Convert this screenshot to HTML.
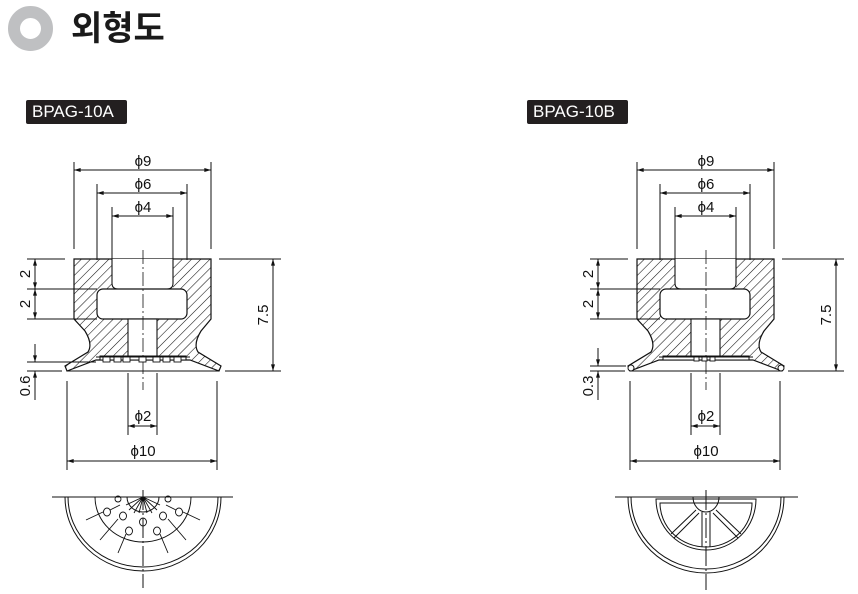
<!DOCTYPE html>
<html><head><meta charset="utf-8"><style>
html,body{margin:0;padding:0;background:#fff;}
body{width:858px;height:594px;overflow:hidden;position:relative;font-family:"Liberation Sans","Noto Sans CJK KR",sans-serif;}
.ring{position:absolute;left:8px;top:6px;width:21px;height:21px;border:12px solid #bfc0c2;border-radius:50%;}
.title{position:absolute;left:71px;top:1px;font-size:34px;font-weight:bold;color:#1a1a1a;font-family:"Noto Sans CJK KR","NanumGothic",sans-serif;}
.lbl{position:absolute;top:100px;height:24px;background:#231f20;color:#fff;font-size:17px;line-height:24px;padding:0 6px;border-radius:2px;}
svg{position:absolute;left:0;top:0;}
</style></head><body>
<div class="ring"></div>
<div class="title">외형도</div>
<div class="lbl" style="left:26px;width:89px;">BPAG-10A</div>
<div class="lbl" style="left:527px;width:89px;">BPAG-10B</div>
<svg width="858" height="594" viewBox="0 0 858 594">
<defs>
<pattern id="h" patternUnits="userSpaceOnUse" width="6.5" height="6.5" patternTransform="rotate(45)">
<line x1="0" y1="0" x2="0" y2="6.5" stroke="#111" stroke-width="1.1"/>
</pattern>
<marker id="a" viewBox="0 0 10 6" refX="10" refY="3" markerWidth="8" markerHeight="4" orient="auto-start-reverse"><path d="M0,0L10,3L0,6z" fill="#111"/></marker>
<g id="side">
 <path d="M74,259 H211 V319 L201,331 Q193,344 198,352 L221,366 L219,371 L190,360 L96,360 L67,371 L65,366 L88,352 Q93,344 85,331 L74,319 Z" fill="url(#h)" stroke="#111" stroke-width="1.2"/>
 <path d="M112,259 H173 V289 H112 Z" fill="#fff" stroke="none"/>
 <path d="M112,259 V283 Q112,289 118,289 M173,259 V283 Q173,289 167,289" fill="none" stroke="#111" stroke-width="1.1"/>
 <rect x="97" y="289" width="90" height="30" rx="6" fill="#fff" stroke="#111" stroke-width="1.2"/>
 <rect x="128" y="319" width="29" height="39" fill="#fff" stroke="#111" stroke-width="1.1"/>
 <rect x="100" y="356" width="86" height="4" fill="#fff"/>
 <line x1="96" y1="357" x2="190" y2="357" stroke="#111" stroke-width="1"/>
 <line x1="67" y1="371" x2="219" y2="371" stroke="#111" stroke-width="1"/>
 <line x1="143" y1="250" x2="143" y2="390" stroke="#111" stroke-width="0.8" stroke-dasharray="14,3,2,3"/>
</g>
</defs>

<g fill="none" stroke="#111" stroke-width="1">
<use href="#side"/>
<g fill="#fff" stroke="#111" stroke-width="0.9">
<rect x="103" y="357" width="7" height="5"/><rect x="114" y="357" width="7" height="5"/><rect x="123" y="357" width="7" height="5"/>
<rect x="139" y="357" width="7" height="5"/><rect x="153" y="357" width="7" height="5"/><rect x="163" y="357" width="7" height="5"/><rect x="174" y="357" width="7" height="5"/>
</g>
<path d="M74,162V249 M211,162V249 M97,184V260 M187,184V260 M112,207V260 M173,207V260"/>
<line x1="74" y1="170" x2="211" y2="170" marker-start="url(#a)" marker-end="url(#a)"/>
<line x1="97" y1="193" x2="187" y2="193" marker-start="url(#a)" marker-end="url(#a)"/>
<line x1="112" y1="216" x2="173" y2="216" marker-start="url(#a)" marker-end="url(#a)"/>
<path d="M27,259H65 M219,259H281 M27,289H97 M27,319H97 M225,371H281 M27,371H62 M27,362H96"/>
<line x1="35" y1="259" x2="35" y2="289" marker-start="url(#a)" marker-end="url(#a)"/>
<line x1="35" y1="289" x2="35" y2="319" marker-start="url(#a)" marker-end="url(#a)"/>
<line x1="273" y1="259" x2="273" y2="371" marker-start="url(#a)" marker-end="url(#a)"/>
<line x1="35" y1="344" x2="35" y2="362" marker-end="url(#a)"/>
<line x1="35" y1="400" x2="35" y2="371" marker-end="url(#a)"/>
<path d="M128,373V435 M157,373V435 M67,381V470 M217,381V470"/>
<line x1="128" y1="426" x2="157" y2="426" marker-start="url(#a)" marker-end="url(#a)"/>
<line x1="67" y1="461" x2="217" y2="461" marker-start="url(#a)" marker-end="url(#a)"/>

<use href="#side" transform="translate(563,0)"/>
<g fill="#fff" stroke="#111" stroke-width="0.9">
<rect x="694" y="357" width="5" height="4"/><rect x="702" y="357" width="5" height="4"/><rect x="710" y="357" width="5" height="4"/>
</g>
<circle cx="631" cy="368" r="3" fill="#fff"/><circle cx="781" cy="368" r="3" fill="#fff"/>
<path d="M637,162V249 M774,162V249 M660,184V260 M750,184V260 M675,207V260 M736,207V260"/>
<line x1="637" y1="170" x2="774" y2="170" marker-start="url(#a)" marker-end="url(#a)"/>
<line x1="660" y1="193" x2="750" y2="193" marker-start="url(#a)" marker-end="url(#a)"/>
<line x1="675" y1="216" x2="736" y2="216" marker-start="url(#a)" marker-end="url(#a)"/>
<path d="M590,259H628 M782,259H844 M590,289H660 M590,319H660 M788,371H844 M590,371H625 M590,366H626"/>
<line x1="598" y1="259" x2="598" y2="289" marker-start="url(#a)" marker-end="url(#a)"/>
<line x1="598" y1="289" x2="598" y2="319" marker-start="url(#a)" marker-end="url(#a)"/>
<line x1="836" y1="259" x2="836" y2="371" marker-start="url(#a)" marker-end="url(#a)"/>
<line x1="598" y1="348" x2="598" y2="366" marker-end="url(#a)"/>
<line x1="598" y1="400" x2="598" y2="371" marker-end="url(#a)"/>
<path d="M691,373V435 M720,373V435 M630,381V470 M780,381V470"/>
<line x1="691" y1="426" x2="720" y2="426" marker-start="url(#a)" marker-end="url(#a)"/>
<line x1="630" y1="461" x2="780" y2="461" marker-start="url(#a)" marker-end="url(#a)"/>

<line x1="52" y1="497" x2="233" y2="497"/>
<path d="M65,497 A78,74 0 0 0 221,497"/>
<path d="M68,497 A75,70 0 0 0 218,497"/>
<path d="M95,497 A48,45 0 0 0 191,497"/>
<path d="M127,497 A16,15 0 0 0 159,497"/>
<line x1="143" y1="490" x2="143" y2="588" stroke-dasharray="20,3,2,3"/>
<g stroke-width="0.9">
<path d="M143,497L126,505 M143,497L129,510 M143,497L134,513 M143,497L139,513 M143,497L147,513 M143,497L152,513 M143,497L157,510 M143,497L160,505"/>
<path d="M86,520L103,512 M200,520L183,512 M100,540L118,519 M186,540L168,519 M118,553L126,534 M168,553L160,534 M120,505L110,510 M166,505L176,510"/>
</g>
<g stroke-width="0.9">
<ellipse cx="107" cy="512" rx="3.5" ry="4"/><ellipse cx="123" cy="516" rx="3.5" ry="4"/><ellipse cx="143" cy="522" rx="3.5" ry="4"/>
<ellipse cx="163" cy="516" rx="3.5" ry="4"/><ellipse cx="179" cy="512" rx="3.5" ry="4"/><ellipse cx="129" cy="531" rx="3.5" ry="4"/><ellipse cx="157" cy="531" rx="3.5" ry="4"/>
<ellipse cx="118" cy="499" rx="3" ry="3"/><ellipse cx="168" cy="499" rx="3" ry="3"/>
</g>

<line x1="615" y1="497" x2="798" y2="497"/>
<path d="M628,497 A78,76 0 0 0 784,497"/>
<path d="M631,497 A75,72 0 0 0 781,497"/>
<path d="M656,499 H756 A50,51 0 0 1 656,499 Z"/>
<path d="M660,503 H752 A46,44 0 0 1 660,503 Z"/>
<path d="M693,497 A13,15 0 0 0 719,497"/>
<line x1="706" y1="490" x2="706" y2="590" stroke-dasharray="20,3,2,3"/>
<path d="M702,512V547 M710,512V547 M696,510L671,534 M674,538L699,513 M716,510L741,534 M738,538L713,513"/>
</g>

<g font-family="Liberation Sans, sans-serif" font-size="15" fill="#111" text-anchor="middle">
<text x="143" y="166">ϕ9</text><text x="143" y="189">ϕ6</text><text x="143" y="212">ϕ4</text>
<text x="143" y="421">ϕ2</text><text x="143" y="456">ϕ10</text>
<text x="706" y="166">ϕ9</text><text x="706" y="189">ϕ6</text><text x="706" y="212">ϕ4</text>
<text x="706" y="421">ϕ2</text><text x="706" y="456">ϕ10</text>
<text transform="translate(30,274) rotate(-90)">2</text>
<text transform="translate(30,304) rotate(-90)">2</text>
<text transform="translate(268,315) rotate(-90)">7.5</text>
<text transform="translate(30,386) rotate(-90)">0.6</text>
<text transform="translate(593,274) rotate(-90)">2</text>
<text transform="translate(593,304) rotate(-90)">2</text>
<text transform="translate(831,315) rotate(-90)">7.5</text>
<text transform="translate(593,386) rotate(-90)">0.3</text>
</g>
</svg>
</body></html>
